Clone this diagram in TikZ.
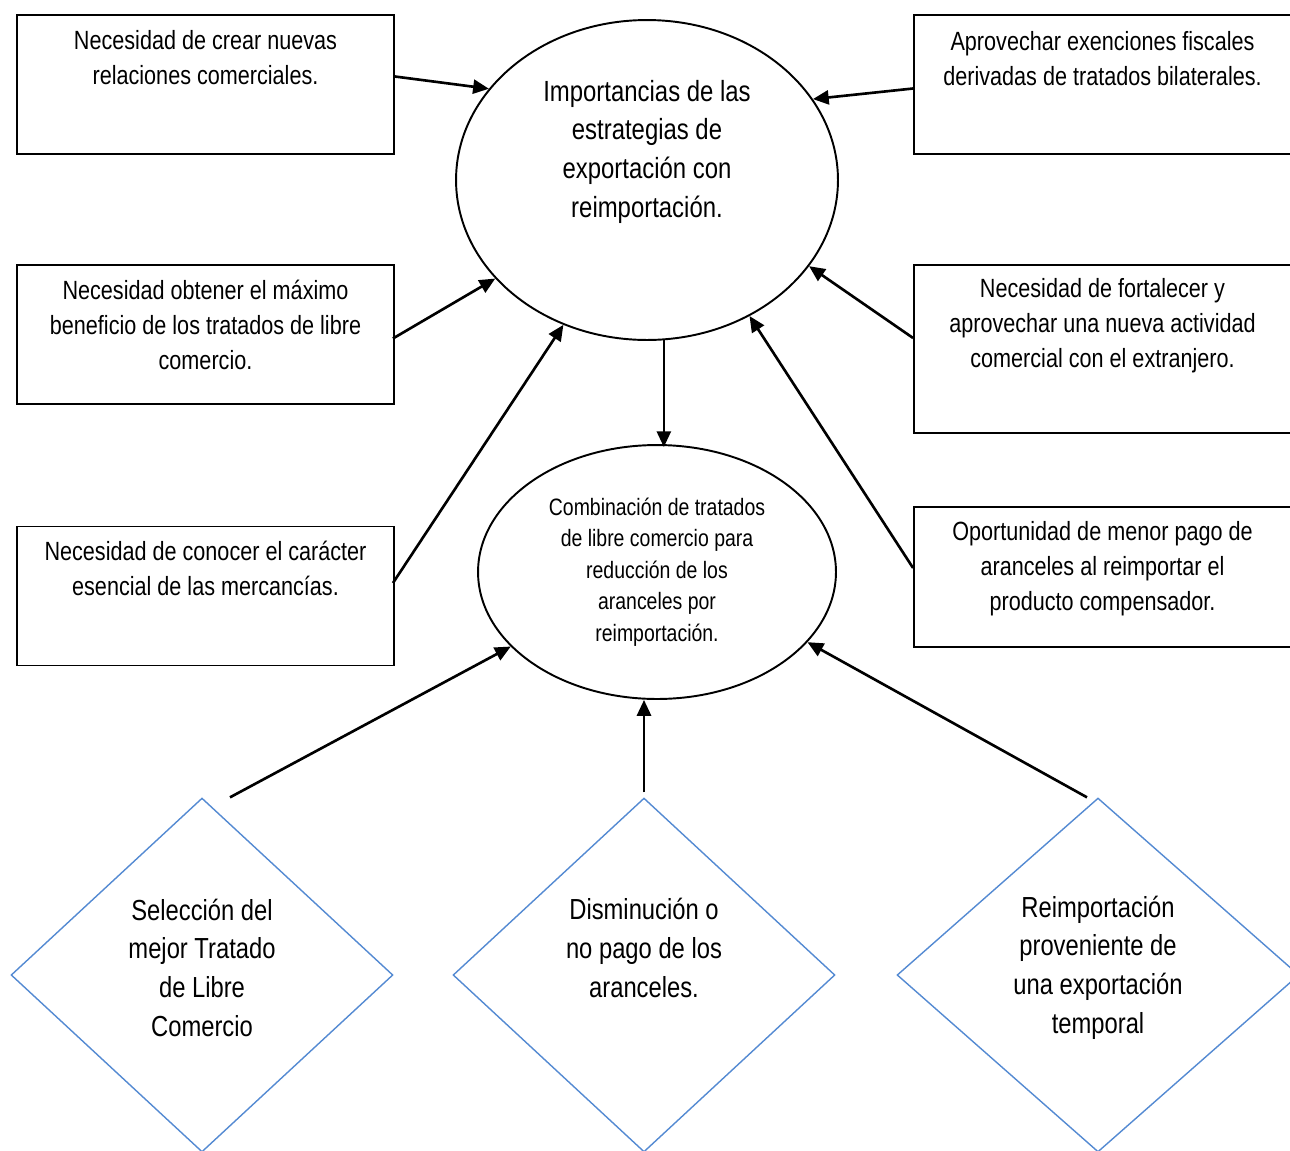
\documentclass[tikz,border=0pt]{standalone}
\usepackage{fontspec}
\setmainfont{Liberation Sans}[FakeStretch=0.82]
\usetikzlibrary{shapes.geometric,arrows.meta,calc}
\definecolor{diamondblue}{RGB}{84,138,210}

\tikzset{
  box/.style={draw, line width=1.1pt, minimum width=7.54cm, minimum height=2.78cm, inner sep=0pt},
  boxtext/.style={align=center, inner sep=0pt, font=\fontsize{15}{19.9}\selectfont},
  bubble/.style={draw, ellipse, line width=1.1pt, inner sep=0pt, align=center},
  choice/.style={draw=diamondblue, diamond, line width=0.8pt, minimum width=7.64cm, minimum height=7.08cm, inner sep=0pt},
  choicetext/.style={align=center, inner sep=0pt, font=\fontsize{16.5}{22}\selectfont},
  arr/.style={-{Triangle[length=9pt,width=8pt]}, line width=1.5pt}
}

\begin{document}
\begin{tikzpicture}[x=0.02cm, y=-0.02cm]
\clip (0,0) rectangle (1290,1150);

\node[box] (l1) at (205.5,84.5) {};
\node[boxtext] (l1t) at ($(l1.north)+(0,44)$) {Necesidad de crear nuevas\\relaciones comerciales.};
\node[box] (l2) at (205.5,334.5) {};
\node[boxtext] (l2t) at ($(l2.north)+(0,61)$) {Necesidad obtener el máximo\\beneficio de los tratados de libre\\comercio.};
\node[box] (l3) at (205.5,596) {};
\node[boxtext] (l3t) at ($(l3.north)+(0,42.5)$) {Necesidad de conocer el carácter\\esencial de las mercancías.};

\node[box] (r1) at (1102.5,84.5) {};
\node[boxtext] (r1t) at ($(r1.north)+(0,44.5)$) {Aprovechar exenciones fiscales\\derivadas de tratados bilaterales.};
\node[box, minimum height=3.36cm] (r2) at (1102.5,349) {};
\node[boxtext] (r2t) at ($(r2.north)+(0,61.5)$) {Necesidad de fortalecer y\\aprovechar una nueva actividad\\comercial con el extranjero.};
\node[box, minimum height=2.8cm] (r3) at (1102.5,577) {};
\node[boxtext] (r3t) at ($(r3.north)+(0,63)$) {Oportunidad de menor pago de\\aranceles al reimportar el\\producto compensador.};

\node[bubble, minimum width=7.64cm, minimum height=6.4cm] (top) at (647,180) {};
\node[align=center, inner sep=0pt, font=\fontsize{16.6}{22}\selectfont] (topt) at ($(top.center)+(0,-28.5)$) {Importancias de las\\estrategias de\\exportación con\\reimportación.};
\node[bubble, minimum width=7.16cm, minimum height=5.08cm, font=\fontsize{13.5}{18}\selectfont] (low) at (657,572) {Combinación de tratados\\de libre comercio para\\reducción de los\\aranceles por\\reimportación.};

\node[choice] (d1) at (202,975) {};
\node[choicetext] (d1t) at ($(d1.center)+(0,-7.5)$) {Selección del\\mejor Tratado\\de Libre\\Comercio};
\node[choice] (d2) at (644,975) {};
\node[choicetext] (d2t) at ($(d2.center)+(0,-27)$) {Disminución o\\no pago de los\\aranceles.};
\node[choice, minimum width=8.04cm] (d3) at (1098,975) {};
\node[choicetext] (d3t) at ($(d3.center)+(0,-7.5)$) {Reimportación\\proveniente de\\una exportación\\temporal};

\draw[arr] ($(l1.east)+(0,-8)$) -- (top.150);
\draw[arr] ($(r1.west)+(0,4)$) -- (top.26);
\draw[arr] ($(l2.east)+(-2,4)$) -- (top.213);
\draw[arr] ($(r2.west)+(0,-11)$) -- (top.332);
\draw[arr] ($(l3.east)+(-2,-13)$) -- (top.240);
\draw[arr] ($(r3.west)+(0,-9)$) -- (top.307);
\draw[arr] (top.276) -- ($(top.276 |- low.north)+(0,3)$);
\draw[arr] ($(d1.north)+(28,0)$) -- (low.207);
\draw[arr] ($(d2.north)+(0,-5)$) -- (d2.north |- low.south);
\draw[arr] ($(d3.north)+(-11,0)$) -- (low.335);
\end{tikzpicture}
\end{document}
